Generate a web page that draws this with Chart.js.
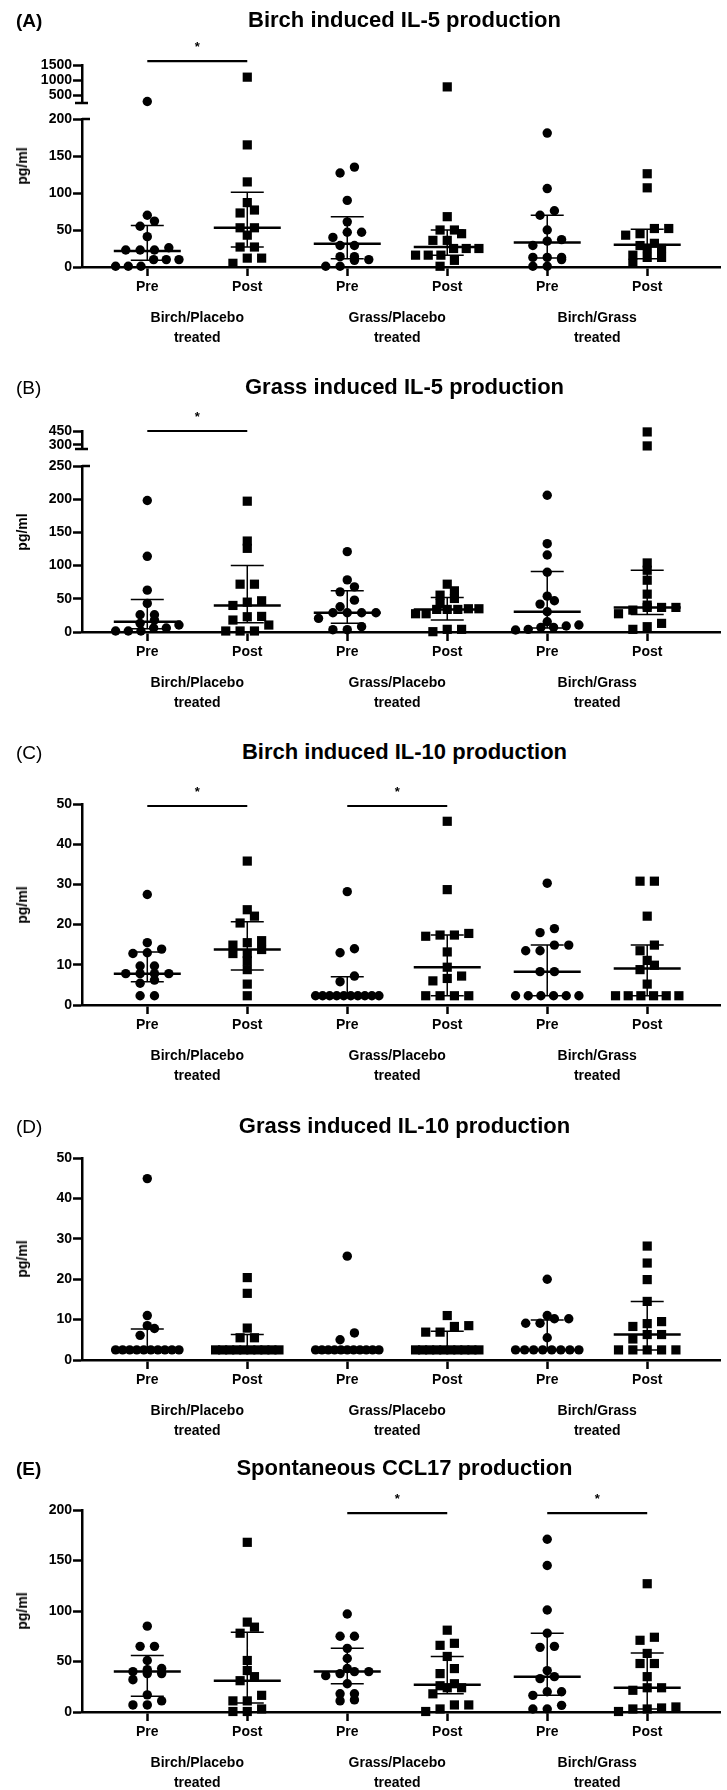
<!DOCTYPE html>
<html>
<head>
<meta charset="utf-8">
<script src="https://cdn.jsdelivr.net/npm/chart.js@4.4.1/dist/chart.umd.min.js"></script>
<style>
  body { margin: 0; background: #fff; }
  #fig { position: relative; width: 727px; height: 1790px; overflow: hidden; font-family: "Liberation Sans", Arial, sans-serif; color: #000; }
  #fig canvas { position: absolute; left: 0; }
  .txt { position: absolute; white-space: nowrap; line-height: 1; }
</style>
</head>
<body>
<div id="fig"></div>
<script>
// figure - IL-5 / IL-10 / CCL17 scatter plots, median with IQR

const FONT = "'Liberation Sans', Arial, sans-serif";

const timepoints = ["Pre", "Post", "Pre", "Post", "Pre", "Post"];
const treatments = [["Birch/Placebo", "treated"], ["Grass/Placebo", "treated"], ["Birch/Grass", "treated"]];

// (A) Birch induced IL-5
const il5BirchPts = [
  [300, 70, 62, 55, 41, 26, 23, 23, 23, 10, 10, 10, 1, 1, 1],
  [1100, 165, 115, 87, 77, 73, 53, 53, 43, 27, 27, 12, 12, 5],
  [135, 127, 90, 61, 47, 47, 40, 29, 29, 14, 14, 10, 9, 1, 1],
  [780, 68, 50, 50, 45, 36, 36, 25, 25, 25, 16, 16, 16, 9, 1],
  [181, 106, 76, 70, 50, 37, 35, 29, 13, 13, 13, 10, 1, 1],
  [126, 107, 52, 52, 45, 43, 32, 29, 25, 25, 16, 13, 13, 5]
];
const il5BirchMed = [21.6, 53, 31.5, 27, 33, 30];
const il5BirchQ1 = [9, 27, 11, 16, 12, 11];
const il5BirchQ3 = [56, 101, 68, 50, 70, 51];
const il5BirchSig = [[0, 1]];
const il5BirchSigY = [1630];
const il5BirchTicksLow = [0, 50, 100, 150, 200];
const il5BirchTicksHigh = [500, 1000, 1500];

// (B) Grass induced IL-5
const il5GrassPts = [
  [198, 114, 63, 43, 26, 26, 18, 13, 10.5, 6, 6, 1.5, 1.5, 1.5],
  [197, 137, 126, 72, 72, 47, 45, 40, 23.5, 23, 18, 10.5, 1.5, 1.5, 1.5],
  [121, 78.5, 68, 60.5, 48, 38, 29, 29, 29, 29, 20.5, 8, 3.5, 3.5],
  [72, 62, 55.5, 50.5, 43, 35, 35, 34, 34, 34, 27.5, 27.5, 4, 4, 0.5],
  [206, 133, 116, 90, 54, 47, 42, 30.5, 15.5, 10.5, 9, 7, 7, 4, 3],
  [440, 290, 104, 93, 78, 57, 40.5, 37, 37, 37, 33, 27.5, 13, 8, 4]
];
const il5GrassMed = [15.5, 40, 29, 34, 30.5, 37];
const il5GrassQ1 = [5, 14, 13, 18, 6, 26.5];
const il5GrassQ3 = [49, 100, 62, 52, 91, 93];
const il5GrassSig = [[0, 1]];
const il5GrassSigY = [450];
const il5GrassTicksLow = [0, 50, 100, 150, 200, 250];
const il5GrassTicksHigh = [300, 450];

// (C) Birch induced IL-10
const il10BirchPts = [
  [27.5, 15.5, 13.9, 13, 12.8, 9.7, 9.7, 7.8, 7.8, 7.8, 7.8, 6.2, 5.4, 2.3, 2.3],
  [35.8, 23.7, 22.1, 20.4, 16, 15.5, 14.9, 13.8, 12.8, 12.8, 11, 8.8, 5.2, 2.3],
  [28.2, 14, 13, 7.2, 5.8, 2.3, 2.3, 2.3, 2.3, 2.3, 2.3, 2.3, 2.3, 2.3, 2.3],
  [45.7, 28.7, 17.8, 17.4, 17.4, 17.1, 13.2, 9.4, 7.2, 6.6, 6, 2.3, 2.3, 2.3, 2.3],
  [30.3, 19, 18, 14.9, 14.9, 13.5, 13.5, 8.3, 8.3, 2.3, 2.3, 2.3, 2.3, 2.3, 2.3],
  [30.8, 30.8, 22.1, 14.9, 13.5, 11.1, 9.9, 8.8, 5.2, 2.3, 2.3, 2.3, 2.3, 2.3, 2.3]
];
const il10BirchMed = [7.8, 13.8, 2.3, 9.4, 8.3, 9.1];
const il10BirchQ1 = [5.8, 8.7, 2.3, 2.3, 2.3, 2.3];
const il10BirchQ3 = [13.2, 20.7, 7, 17.4, 14.9, 14.9];
const il10BirchSig = [[0, 1], [2, 3]];
const il10BirchSigY = [49.5, 49.5];
const il10Ticks = [0, 10, 20, 30, 40, 50];

// (D) Grass induced IL-10
const il10GrassPts = [
  [44.9, 11, 8.5, 7.8, 6.1, 2.5, 2.5, 2.5, 2.5, 2.5, 2.5, 2.5, 2.5, 2.5, 2.5],
  [20.4, 16.5, 7.9, 5.5, 5.5, 2.5, 2.5, 2.5, 2.5, 2.5, 2.5, 2.5, 2.5, 2.5, 2.5],
  [25.7, 6.7, 5, 2.5, 2.5, 2.5, 2.5, 2.5, 2.5, 2.5, 2.5, 2.5, 2.5, 2.5],
  [11, 8.5, 8.3, 6.9, 6.9, 2.5, 2.5, 2.5, 2.5, 2.5, 2.5, 2.5, 2.5, 2.5, 2.5],
  [20, 11, 10.2, 10.2, 9.1, 9.1, 5.5, 2.5, 2.5, 2.5, 2.5, 2.5, 2.5, 2.5, 2.5],
  [28.2, 24, 19.9, 14.5, 9.5, 9, 8.3, 6.3, 6.3, 5.2, 2.5, 2.5, 2.5, 2.5, 2.5]
];
const il10GrassMed = [2.5, 2.5, 2.5, 2.5, 2.5, 6.3];
const il10GrassQ1 = [2.5, 2.5, 2.5, 2.5, 2.5, 2.5];
const il10GrassQ3 = [7.7, 6.3, 2.5, 7.1, 9.9, 14.5];

// (E) Spontaneous CCL17
const ccl17Pts = [
  [85, 65, 65, 51, 43, 42, 40, 38, 38, 32, 17, 11, 7, 7],
  [168, 89, 84, 78, 51, 41, 35, 31, 16.5, 11, 11, 3, 0.5, 0.5],
  [97, 75, 75, 63, 53, 43, 40, 40, 38, 36, 28, 18, 18, 12, 11],
  [81, 68, 66, 55, 43, 38, 28, 26, 24, 24, 18, 7, 7, 3, 0.5],
  [171, 145, 101, 78, 65, 64, 41, 35, 33, 20, 20, 16.5, 6.6, 3, 3],
  [127, 74, 71, 58, 48, 48, 35, 24, 24, 21.5, 5, 4, 3, 3, 0.5]
];
const ccl17Med = [40, 31, 40, 27, 35, 24];
const ccl17Q1 = [15.5, 9, 28, 18, 16.5, 3];
const ccl17Q3 = [56, 79, 63, 55, 78, 58.5];
const ccl17Sig = [[2, 3], [4, 5]];
const ccl17SigY = [197, 197];
const ccl17Ticks = [0, 50, 100, 150, 200];

// layout of the five panels (page pixels)
const panels = [
  { letter: "(A)", bold: true, title: "Birch induced IL-5 production", titleY: 20,
    pts: il5BirchPts, med: il5BirchMed, q1: il5BirchQ1, q3: il5BirchQ3, sig: il5BirchSig, sigY: il5BirchSigY,
    high: { range: [250, 1500], ticks: il5BirchTicksHigh, top: 65, bottom: 102.5 },
    low: { range: [0, 200], ticks: il5BirchTicksLow, top: 119, bottom: 267 } },
  { letter: "(B)", bold: false, title: "Grass induced IL-5 production", titleY: 387,
    pts: il5GrassPts, med: il5GrassMed, q1: il5GrassQ1, q3: il5GrassQ3, sig: il5GrassSig, sigY: il5GrassSigY,
    high: { range: [257, 450], ticks: il5GrassTicksHigh, top: 431, bottom: 449 },
    low: { range: [0, 250], ticks: il5GrassTicksLow, top: 466, bottom: 632 } },
  { letter: "(C)", bold: false, title: "Birch induced IL-10 production", titleY: 752,
    pts: il10BirchPts, med: il10BirchMed, q1: il10BirchQ1, q3: il10BirchQ3, sig: il10BirchSig, sigY: il10BirchSigY,
    low: { range: [0, 50], ticks: il10Ticks, top: 804, bottom: 1005 } },
  { letter: "(D)", bold: false, title: "Grass induced IL-10 production", titleY: 1126,
    pts: il10GrassPts, med: il10GrassMed, q1: il10GrassQ1, q3: il10GrassQ3, sig: [], sigY: [],
    low: { range: [0, 50], ticks: il10Ticks, top: 1158, bottom: 1359.5 } },
  { letter: "(E)", bold: true, title: "Spontaneous CCL17 production", titleY: 1468,
    pts: ccl17Pts, med: ccl17Med, q1: ccl17Q1, q3: ccl17Q3, sig: ccl17Sig, sigY: ccl17SigY,
    low: { range: [0, 200], ticks: ccl17Ticks, top: 1510, bottom: 1712 } }
];

const X_MIN = -0.653, X_MAX = 5.733;   // category 0 at x=148px, 101px per category
const PX_PER_CAT = 101;
const fig = document.getElementById("fig");

function addText(txt, x, y, css) {
  const d = document.createElement("div");
  d.className = "txt";
  d.textContent = txt;
  d.style.left = x + "px";
  d.style.top = y + "px";
  Object.assign(d.style, css);
  fig.appendChild(d);
}

// spread points of similar value sideways, rows centred on the category
function swarm(vals, ppu) {
  const order = vals.map((v, i) => i).sort((a, b) => vals[a] - vals[b]);
  const offs = new Array(vals.length).fill(0);
  let row = [];
  const flush = () => {
    const n = row.length;
    const step = n > 1 ? Math.min(14.5, 64 / (n - 1)) : 0;
    row.forEach((k, j) => { offs[k] = (j - (n - 1) / 2) * step; });
    row = [];
  };
  order.forEach(k => {
    if (row.length && (vals[k] - vals[row[0]]) * ppu > 7) flush();
    row.push(k);
  });
  flush();
  return offs;
}

const decor = {
  id: "decor",
  afterDatasetsDraw(chart, args, opts) {
    const { ctx, chartArea: ca, scales } = chart;
    ctx.save();
    ctx.strokeStyle = "#000";
    ctx.fillStyle = "#000";
    ctx.lineWidth = 2.5;
    if (opts.breakBottom) {
      ctx.beginPath();
      ctx.moveTo(ca.left - 7, ca.bottom);
      ctx.lineTo(ca.left + 6, ca.bottom);
      ctx.stroke();
    }
    if (opts.breakTop) {
      ctx.beginPath();
      ctx.moveTo(ca.left, ca.top);
      ctx.lineTo(ca.left + 8, ca.top);
      ctx.stroke();
    }
    ctx.font = "bold 13px " + FONT;
    ctx.textAlign = "center";
    ctx.textBaseline = "middle";
    (opts.sig || []).forEach((p, k) => {
      const x = (scales.x.getPixelForValue(p[0]) + scales.x.getPixelForValue(p[1])) / 2;
      const y = scales.y.getPixelForValue(opts.sigY[k]) - 14;
      ctx.fillText("*", x, y);
    });
    ctx.restore();
  }
};

function buildChart(p, seg, opts) {
  const PAD_T = 40, X_H = 30, G_H = 54;
  const PAD_B = opts.showX ? 0 : 12;
  const areaH = seg.bottom - seg.top;
  const cv = document.createElement("canvas");
  cv.width = 727;
  cv.height = Math.round(PAD_T + areaH + PAD_B + (opts.showX ? X_H + G_H : 0));
  cv.style.top = (seg.top - PAD_T) + "px";
  fig.appendChild(cv);

  const ppu = areaH / (seg.range[1] - seg.range[0]);
  const inSeg = v => v >= seg.range[0] && v <= seg.range[1];
  const datasets = [];

  p.pts.forEach((vals, i) => {
    const kept = vals.filter(inSeg);
    const offs = swarm(kept, ppu);
    datasets.push({
      data: kept.map((v, k) => ({ x: i + offs[k] / PX_PER_CAT, y: v })),
      pointStyle: i % 2 === 0 ? "circle" : "rect",
      pointRadius: i % 2 === 0 ? 4.7 : 6.5,
      pointBackgroundColor: "#000",
      pointBorderWidth: 0,
      showLine: false,
      clip: false
    });
  });

  if (opts.stats) {
    const medLines = [], whiskers = [];
    p.med.forEach((m, i) => {
      medLines.push({ x: i - 0.335, y: m }, { x: i + 0.335, y: m }, { x: i, y: null });
      const c = 0.165;
      whiskers.push(
        { x: i - c, y: p.q3[i] }, { x: i + c, y: p.q3[i] }, { x: i, y: null },
        { x: i, y: p.q3[i] }, { x: i, y: p.q1[i] }, { x: i, y: null },
        { x: i - c, y: p.q1[i] }, { x: i + c, y: p.q1[i] }, { x: i, y: null }
      );
    });
    datasets.push({ data: medLines, showLine: true, borderColor: "#000", borderWidth: 2.5, pointRadius: 0, spanGaps: false, clip: false });
    datasets.push({ data: whiskers, showLine: true, borderColor: "#000", borderWidth: 1.5, pointRadius: 0, spanGaps: false, clip: false });
  }

  if (opts.sig) {
    p.sig.forEach((pair, k) => {
      datasets.push({
        data: [{ x: pair[0], y: p.sigY[k] }, { x: pair[1], y: p.sigY[k] }],
        showLine: true, borderColor: "#000", borderWidth: 2.2, pointRadius: 0, clip: false
      });
    });
  }

  const tickFont = { family: FONT, size: 14, weight: "bold" };

  new Chart(cv, {
    type: "scatter",
    data: { datasets },
    options: {
      responsive: false,
      animation: false,
      devicePixelRatio: 1,
      layout: { padding: { top: PAD_T, bottom: PAD_B, left: 0, right: 0 } },
      plugins: {
        legend: { display: false },
        tooltip: { enabled: false },
        decor: {
          breakBottom: opts.breakBottom, breakTop: opts.breakTop,
          sig: opts.sig ? p.sig : [], sigY: p.sigY
        }
      },
      scales: {
        x: {
          type: "linear", position: "bottom", weight: 0,
          min: X_MIN, max: X_MAX, display: opts.showX,
          border: { display: true, width: 2.5, color: "#000" },
          grid: { drawOnChartArea: false, drawTicks: true, tickLength: 9, tickWidth: 2.5, tickColor: "#000" },
          afterBuildTicks: s => { s.ticks = timepoints.map((t, i) => ({ value: i })); },
          afterFit: s => { if (opts.showX) s.height = X_H; },
          ticks: { autoSkip: false, maxRotation: 0, padding: 3, color: "#000", font: tickFont,
                   callback: (v, i) => timepoints[i] }
        },
        xg: {
          type: "linear", position: "bottom", weight: 1,
          min: X_MIN, max: X_MAX, display: opts.showX,
          border: { display: false },
          grid: { display: false },
          afterBuildTicks: s => { s.ticks = treatments.map((t, i) => ({ value: 2 * i + 0.5 })); },
          afterFit: s => { if (opts.showX) s.height = G_H; },
          ticks: { autoSkip: false, maxRotation: 0, padding: 3, color: "#000",
                   font: { family: FONT, size: 14, weight: "bold", lineHeight: 1.45 },
                   callback: (v, i) => treatments[i] }
        },
        y: {
          type: "linear", min: seg.range[0], max: seg.range[1],
          border: { display: true, width: 2.5, color: "#000" },
          grid: { drawOnChartArea: false, drawTicks: true, tickLength: 9, tickWidth: 2.5, tickColor: "#000" },
          afterBuildTicks: s => { s.ticks = seg.ticks.map(v => ({ value: v })); },
          afterFit: s => { s.width = 82; },
          ticks: { autoSkip: false, padding: 1, color: "#000", font: tickFont,
                   callback: v => String(v) }
        }
      }
    },
    plugins: [decor]
  });
}

panels.forEach(p => {
  if (p.high) {
    buildChart(p, p.high, { showX: false, stats: false, sig: true, breakBottom: true });
    buildChart(p, p.low, { showX: true, stats: true, sig: false, breakTop: true });
  } else {
    buildChart(p, p.low, { showX: true, stats: true, sig: true });
  }
  const axTop = p.high ? p.high.top : p.low.top;
  addText(p.letter, 16, p.titleY, { fontSize: "19px", fontWeight: p.bold ? "bold" : "normal", transform: "translateY(-50%)" });
  addText(p.title, 404.5, p.titleY, { fontSize: "22px", fontWeight: "bold", transform: "translate(-50%,-50%)" });
  addText("pg/ml", 22, (axTop + p.low.bottom) / 2, { fontSize: "14px", fontWeight: "bold", transform: "translate(-50%,-50%) rotate(-90deg)" });
});
</script>
</body>
</html>
